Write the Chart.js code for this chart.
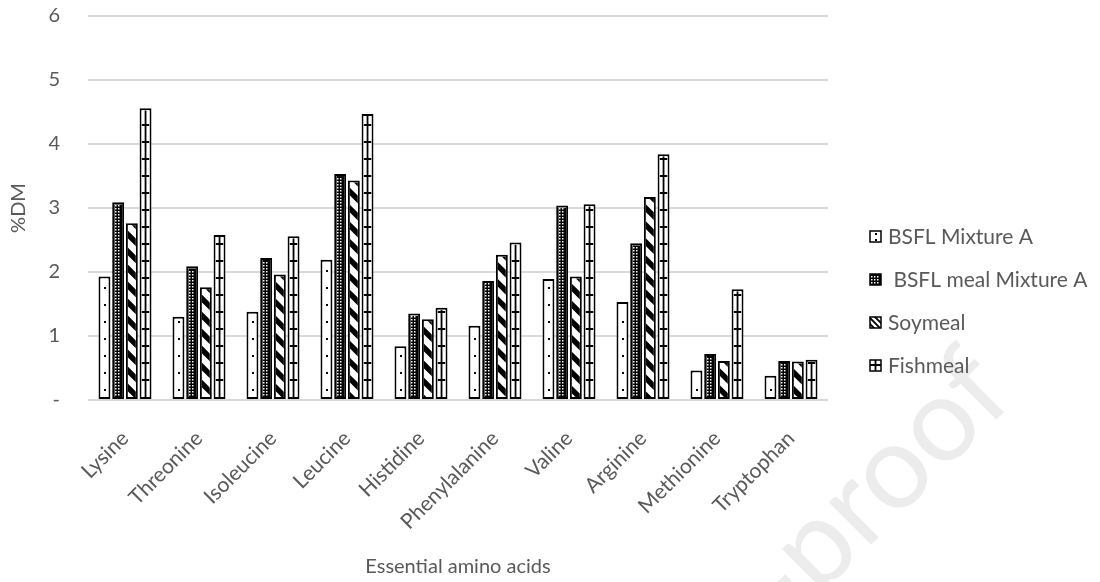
<!DOCTYPE html>
<html lang="en">
<head>
<meta charset="UTF-8">
<title>Essential amino acids</title>
<script src="https://cdn.jsdelivr.net/npm/chart.js"></script>
<style>
  html, body { margin: 0; padding: 0; background: #fff; }
  #wrap { width: 1100px; height: 582px; }
</style>
</head>
<body>
<div id="wrap"><canvas id="aaChart" width="1100" height="582"></canvas></div>
<script>
// values (%DM)
const categories = ['Lysine', 'Threonine', 'Isoleucine', 'Leucine', 'Histidine',
  'Phenylalanine', 'Valine', 'Arginine', 'Methionine', 'Tryptophan'];
const bsflMixtureA = [1.93, 1.30, 1.38, 2.19, 0.84, 1.16, 1.89, 1.53, 0.46, 0.38];
const bsflMealMixtureA = [3.09, 2.09, 2.22, 3.53, 1.35, 1.86, 3.04, 2.45, 0.72, 0.61];
const soymeal = [2.76, 1.76, 1.96, 3.43, 1.26, 2.27, 1.93, 3.17, 0.61, 0.60];
const fishmeal = [4.56, 2.58, 2.56, 4.47, 1.44, 2.46, 3.06, 3.84, 1.73, 0.63];
const seriesNames = ['BSFL Mixture A', ' BSFL meal Mixture A', 'Soymeal', 'Fishmeal'];
const yMax = 6;
const yStep = 1;

const TEXT = '#595959';
const FONT = 'Lato, "Open Sans", sans-serif';
const fillTypes = ['dots', 'checks', 'diag', 'grid'];

// paints the hatch of one bar, anchored at its bottom-left corner
function paintFill(ctx, type, l, t, w, h, period) {
  if (w <= 0 || h <= 0) return;
  const b = t + h;
  ctx.save();
  ctx.beginPath();
  ctx.rect(l, t, w, h);
  ctx.clip();
  ctx.fillStyle = '#fff';
  ctx.fillRect(l, t, w, h);
  ctx.fillStyle = '#000';
  ctx.strokeStyle = '#000';
  if (type === 'dots') {
    for (let y = b - period / 2; y > t; y -= period) {
      ctx.fillRect(Math.round(l + w * 0.45), Math.round(y), 2, 2);
    }
  } else if (type === 'checks') {
    ctx.fillRect(l, t, w, h);
    ctx.fillStyle = '#fff';
    for (let y = b - 3; y > t; y -= 3) {
      for (let x = l + 1; x < l + w - 1; x += 3) {
        ctx.fillRect(Math.round(x), Math.round(y), 1.5, 1.5);
      }
    }
  } else if (type === 'diag') {
    ctx.lineWidth = period * 0.32;
    ctx.beginPath();
    for (let y0 = t - w - period; y0 < b + period; y0 += period) {
      ctx.moveTo(l - 2, y0 - 2);
      ctx.lineTo(l + w + 2, y0 + w + 2);
    }
    ctx.stroke();
  } else if (type === 'grid') {
    ctx.lineWidth = 1.8;
    ctx.beginPath();
    for (let y = b - period; y > t; y -= period) {
      ctx.moveTo(l, y);
      ctx.lineTo(l + w, y);
    }
    ctx.moveTo(l + w / 2, t);
    ctx.lineTo(l + w / 2, b);
    ctx.stroke();
  }
  ctx.restore();
}

const hatchPlugin = {
  id: 'hatch',
  afterDatasetDraw(chart, args) {
    const ctx = chart.ctx;
    const type = fillTypes[args.index];
    const bw = 2;
    args.meta.data.forEach(bar => {
      const p = bar.getProps(['x', 'y', 'base', 'width'], true);
      const l = p.x - p.width / 2 + bw;
      const t = Math.min(p.y, p.base) + bw;
      paintFill(ctx, type, l, t, p.width - 2 * bw, Math.abs(p.base - p.y) - 2 * bw, 17);
    });
  }
};

// legend on the right, drawn by hand so it sits where the reference has it
const legendPlugin = {
  id: 'sideLegend',
  afterDraw(chart) {
    const ctx = chart.ctx;
    const x0 = 870, y0 = 236, gap = 43;
    ctx.save();
    chart.data.datasets.forEach((ds, i) => {
      const cy = y0 + i * gap;
      paintFill(ctx, fillTypes[i], x0, cy - 5, 11, 11, 6);
      ctx.lineWidth = 1.5;
      ctx.strokeStyle = '#000';
      ctx.strokeRect(x0, cy - 5, 11, 11);
      ctx.fillStyle = TEXT;
      ctx.font = '21px ' + FONT;
      ctx.textAlign = 'left';
      ctx.textBaseline = 'middle';
      ctx.fillText(ds.label, x0 + 18, cy + 1);
    });
    ctx.restore();
  }
};

const watermarkPlugin = {
  id: 'watermark',
  beforeDraw(chart) {
    const ctx = chart.ctx;
    ctx.save();
    ctx.translate(990, 372);
    ctx.rotate(-45 * Math.PI / 180);
    ctx.fillStyle = '#ececec';
    ctx.font = '118px ' + FONT;
    ctx.textAlign = 'right';
    ctx.textBaseline = 'middle';
    ctx.fillText('Journal Pre-proof', 0, 0);
    ctx.restore();
  }
};

const datasets = [bsflMixtureA, bsflMealMixtureA, soymeal, fishmeal].map((vals, i) => ({
  label: seriesNames[i],
  data: vals,
  backgroundColor: '#fff',
  borderColor: '#000',
  borderWidth: 2,
  borderSkipped: false,
  categoryPercentage: 0.74,
  barPercentage: 0.87
}));

new Chart(document.getElementById('aaChart'), {
  type: 'bar',
  data: { labels: categories, datasets: datasets },
  plugins: [watermarkPlugin, hatchPlugin, legendPlugin],
  options: {
    responsive: false,
    animation: false,
    layout: { padding: { top: 0, right: 272, bottom: 0, left: 0 } },
    plugins: { legend: { display: false }, tooltip: { enabled: false } },
    scales: {
      x: {
        grid: { display: false },
        border: { display: false },
        ticks: { color: TEXT, font: { family: FONT, size: 21 }, minRotation: 45, maxRotation: 45, padding: 18 },
        title: { display: true, text: 'Essential amino acids', color: TEXT, font: { family: FONT, size: 20 }, padding: { top: 0, bottom: 3 } },
        afterFit(scale) { scale.height = 182; }
      },
      y: {
        min: 0,
        max: yMax,
        // invisible tick marks push the labels left without adding top padding
        grid: { color: '#d9d9d9', lineWidth: 2, drawTicks: true, tickLength: 24, tickColor: 'rgba(0,0,0,0)' },
        border: { display: false },
        ticks: {
          stepSize: yStep,
          color: TEXT,
          font: { family: FONT, size: 20 },
          padding: 4,
          callback: v => (v === 0 ? '-' : String(v))
        },
        title: { display: true, text: '%DM', color: TEXT, font: { family: FONT, size: 20 }, padding: { top: 7 } },
        afterFit(scale) { scale.width = 88; }
      }
    }
  }
});
</script>
</body>
</html>
